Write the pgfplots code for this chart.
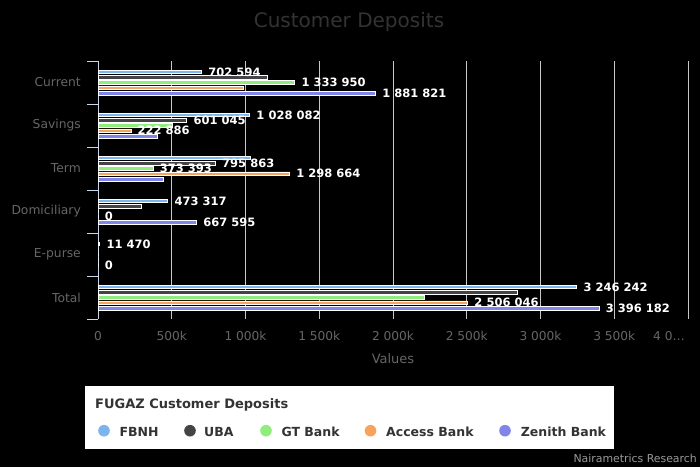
\documentclass[border=0pt]{standalone}
\usepackage{fontspec}
\setmainfont{DejaVu Sans}
\usepackage{pgfplots}
\pgfplotsset{compat=1.18}
\usepackage{pgfplotstable}
\definecolor{cFBNH}{HTML}{7CB5EC}
\definecolor{cUBA}{HTML}{434348}
\definecolor{cGT}{HTML}{90ED7D}
\definecolor{cAccess}{HTML}{F7A35C}
\definecolor{cZenith}{HTML}{8085E9}
\definecolor{cTitle}{HTML}{333333}
\definecolor{cLab}{HTML}{666666}
\definecolor{cGrid}{HTML}{C8C8C8}
\definecolor{cAxis}{HTML}{CCD6EB}
\definecolor{cCredit}{HTML}{999999}

% cat: 0 Current, 1 Savings, 2 Term, 3 Domiciliary, 4 E-purse, 5 Total
\pgfplotstableread{
cat val lbl
0 702594 702~594
1 1028082 1~028~082
2 1030779 {}
3 473317 473~317
4 11470 11~470
5 3246242 3~246~242
}\tFBNH
\pgfplotstableread{
cat val lbl
0 1149000 {}
1 601045 601~045
2 795863 795~863
3 296000 {}
4 0 {}
5 2841908 {}
}\tUBA
\pgfplotstableread{
cat val lbl
0 1333950 1~333~950
1 505000 {}
2 373393 373~393
3 0 {}
4 0 {}
5 2212343 {}
}\tGT
\pgfplotstableread{
cat val lbl
0 984496 {}
1 222886 222~886
2 1298664 1~298~664
3 0 0
4 0 {}
5 2506046 2~506~046
}\tAccess
\pgfplotstableread{
cat val lbl
0 1881821 1~881~821
1 405000 {}
2 441766 {}
3 667595 667~595
4 0 0
5 3396182 3~396~182
}\tZenith

\pgfplotsset{
  barplot/.style={fill=#1, draw=white, line width=0.7pt},
}

\begin{document}
\begin{tikzpicture}[x=1pt,y=1pt]
\fill[black] (0,0) rectangle (700,467);
\node[anchor=base, text=cTitle, font=\fontsize{20}{24}\selectfont, inner sep=0pt] at (349,439.3) {Customer Deposits};
\node[anchor=base east, text=cCredit, font=\fontsize{10.9}{13}\selectfont, inner sep=0pt] at (697,5) {Nairametrics Research};
% legend box
\fill[white] (84.7,17.7) rectangle (614,81);
\node[anchor=base west, text=cTitle, font=\fontsize{13}{15}\bfseries\selectfont, inner sep=0pt] at (95,58.3) {FUGAZ Customer Deposits};
\begin{scope}[every node/.style={anchor=base west, text=cTitle, font=\fontsize{12.5}{15}\bfseries\selectfont, inner sep=0pt}]
\fill[cFBNH] (104,36.3) circle (5.8pt);   \node at (119.3,31) {FBNH};
\fill[cUBA] (190,36.3) circle (5.8pt);    \node at (204,31) {UBA};
\fill[cGT] (266,36.3) circle (5.8pt);     \node at (281.3,31) {GT Bank};
\fill[cAccess] (370.5,36.3) circle (5.8pt); \node at (386,31) {Access Bank};
\fill[cZenith] (505,36.3) circle (5.8pt); \node at (520.7,31) {Zenith Bank};
\end{scope}
\begin{axis}[
  at={(98pt,148pt)}, anchor=south west, scale only axis,
  width=590pt, height=258pt,
  clip=false,
  xbar, bar width=3.8pt,
  xmin=0, xmax=4000000, ymin=-0.5, ymax=5.5, y dir=reverse,
  axis x line*=bottom, axis y line*=left,
  x axis line style={draw=none},
  y axis line style={draw=cAxis, line width=1pt, -},
  ytick={0,...,5},
  yticklabels={Current,Savings,Term,Domiciliary,E-purse,Total},
  minor ytick={-0.5,0.5,1.5,2.5,3.5,4.5,5.5},
  major tick length=0pt, minor tick length=10.5pt, tick align=outside,
  y tick style={draw=cAxis, line width=1pt},
  minor y tick style={draw=cAxis, line width=1pt},
  x tick style={draw=none},
  yticklabel style={text=cLab, font=\fontsize{12.3}{14}\selectfont, inner sep=0pt, anchor=east, xshift=-17pt},
  xtick={0,500000,1000000,1500000,2000000,2500000,3000000,3500000},
  xticklabels={0,500k,1 000k,1 500k,2 000k,2 500k,3 000k,3 500k},
  extra x ticks={4000000},
  extra x tick labels={4 0…},
  extra x tick style={xticklabel style={xshift=-19pt}},
  scaled x ticks=false,
  xticklabel style={text=cLab, font=\fontsize{12.2}{14}\selectfont, inner sep=0pt, anchor=north, yshift=-12.5pt},
  xmajorgrids, grid style={draw=cGrid, line width=1pt},
  xlabel={Values},
  xlabel style={at={(axis description cs:0.5,0)}, anchor=base, yshift=-44pt, inner sep=0pt, text=cLab, font=\fontsize{13}{15}\selectfont},
  point meta=explicit symbolic,
  nodes near coords={\pgfplotspointmeta},
  nodes near coords align=horizontal,
  every node near coord/.style={anchor=west, inner sep=0pt, xshift=6.5pt, text=white, font=\fontsize{11.5}{13}\bfseries\selectfont},
]
\addplot[barplot=cFBNH, bar shift=10.6pt, every node near coord/.append style={yshift=10.6pt}] table[x=val,y=cat,meta=lbl] {\tFBNH};
\addplot[barplot=cUBA, bar shift=5.3pt, every node near coord/.append style={yshift=5.3pt}] table[x=val,y=cat,meta=lbl] {\tUBA};
\addplot[barplot=cGT, bar shift=0pt] table[x=val,y=cat,meta=lbl] {\tGT};
\addplot[barplot=cAccess, bar shift=-5.3pt, every node near coord/.append style={yshift=-5.3pt}] table[x=val,y=cat,meta=lbl] {\tAccess};
\addplot[barplot=cZenith, bar shift=-10.6pt, every node near coord/.append style={yshift=-10.6pt}] table[x=val,y=cat,meta=lbl] {\tZenith};
\end{axis}
\pgfresetboundingbox
\path[use as bounding box] (0,0) rectangle (700,467);
\end{tikzpicture}
\end{document}
